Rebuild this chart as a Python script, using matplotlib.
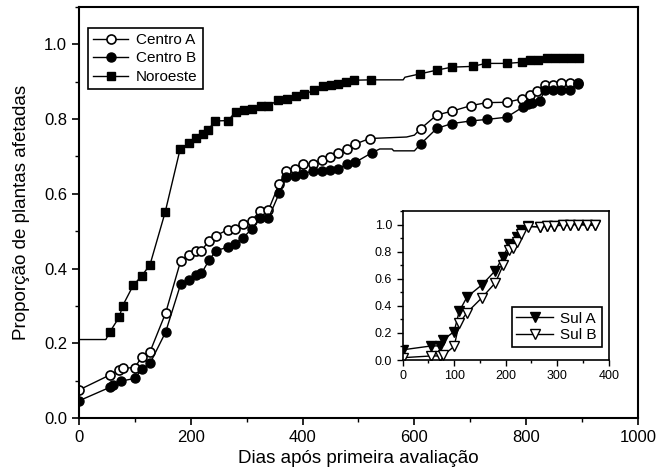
import matplotlib.pyplot as plt
from matplotlib.ticker import MultipleLocator

plt.rcParams['font.family'] = ['Liberation Sans', 'DejaVu Sans']

# days after first evaluation / proportion of affected plants
noroeste_days = [0, 48, 55, 72, 78, 97, 112, 127, 154, 181, 196, 210, 222, 231, 244, 267,
                 280, 295, 310, 325, 339, 356, 372, 388, 403, 421, 436, 450, 464, 478, 492,
                 522, 580, 583, 610, 640, 667, 704, 728, 765, 792, 807, 822, 837, 851,
                 866, 881, 894]
noroeste_prop = [0.21, 0.21, 0.23, 0.27, 0.30, 0.355, 0.38, 0.41, 0.55, 0.72, 0.735, 0.75,
                 0.76, 0.772, 0.795, 0.796, 0.82, 0.825, 0.828, 0.835, 0.835, 0.851,
                 0.855, 0.861, 0.867, 0.877, 0.888, 0.891, 0.895, 0.899, 0.904, 0.905,
                 0.905, 0.912, 0.921, 0.931, 0.939, 0.941, 0.949, 0.949, 0.952, 0.957,
                 0.957, 0.964, 0.964, 0.964, 0.964, 0.964]
noroeste_bare = [0, 1, 32, 33]

centro_a_days = [0, 55, 72, 78, 100, 112, 127, 155, 182, 197, 210, 218, 233, 245, 266, 279,
                 294, 309, 324, 339, 358, 371, 386, 401, 419, 434, 449, 464, 479, 494,
                 520, 586, 600, 611, 640, 667, 701, 729, 765, 792, 807, 819, 834, 848,
                 863, 878, 893]
centro_a_prop = [0.075, 0.115, 0.128, 0.133, 0.135, 0.163, 0.177, 0.281, 0.421, 0.437,
                 0.446, 0.446, 0.475, 0.488, 0.504, 0.505, 0.52, 0.528, 0.555, 0.557,
                 0.626, 0.661, 0.666, 0.679, 0.679, 0.69, 0.699, 0.71, 0.719, 0.733,
                 0.748, 0.752, 0.757, 0.774, 0.811, 0.821, 0.836, 0.844, 0.845, 0.854,
                 0.864, 0.875, 0.892, 0.892, 0.896, 0.896, 0.896]
centro_a_bare = [31, 32]

centro_b_days = [0, 55, 60, 76, 100, 112, 127, 155, 182, 197, 210, 219, 233, 245, 266, 279,
                 294, 309, 324, 339, 358, 371, 386, 401, 419, 434, 449, 464, 479, 494,
                 524, 538, 560, 563, 600, 611, 640, 667, 701, 729, 765, 794, 804, 811,
                 824, 834, 848, 863, 878, 893]
centro_b_prop = [0.046, 0.082, 0.088, 0.099, 0.106, 0.13, 0.146, 0.23, 0.359, 0.37, 0.384,
                 0.387, 0.423, 0.448, 0.457, 0.467, 0.483, 0.506, 0.535, 0.535, 0.601,
                 0.644, 0.648, 0.654, 0.661, 0.661, 0.663, 0.667, 0.679, 0.684, 0.71,
                 0.72, 0.72, 0.715, 0.715, 0.733, 0.775, 0.788, 0.795, 0.799, 0.805,
                 0.832, 0.841, 0.843, 0.848, 0.879, 0.879, 0.879, 0.879, 0.894]
centro_b_bare = [31, 32, 33, 34]

sul_days = [0, 56, 73, 79, 100, 110, 125, 154, 180, 195, 207, 214, 222, 230, 243, 266,
            281, 294, 311, 325, 340, 358, 373]
sul_a_prop = [0.075, 0.104, 0.104, 0.149, 0.21, 0.36, 0.465, 0.555, 0.66, 0.763, 0.853,
              0.84, 0.908, 0.958, 0.987, 0.983, 0.988, 0.99, 1.0, 1.0, 1.0, 1.0, 1.0]
sul_b_prop = [0.017, 0.03, 0.03, 0.035, 0.1, 0.27, 0.35, 0.46, 0.57, 0.70, 0.81, 0.83,
              0.87, 0.93, 0.985, 0.983, 0.988, 0.99, 0.995, 1.0, 1.0, 0.995, 0.995]


def marked(n, bare):
    return [i for i in range(n) if i not in bare]


fig = plt.figure(figsize=(6.61, 4.75), dpi=100)
ax = fig.add_axes([0.1195, 0.12, 0.8457, 0.8653])

ax.plot(centro_a_days, centro_a_prop, '-o', color='black', mfc='white', mew=1.2, ms=6.5,
        lw=1, markevery=marked(len(centro_a_days), centro_a_bare), label='Centro A')
ax.plot(centro_b_days, centro_b_prop, '-o', color='black', ms=6.5, lw=1,
        markevery=marked(len(centro_b_days), centro_b_bare), label='Centro B')
ax.plot(noroeste_days, noroeste_prop, '-s', color='black', ms=5.5, lw=1,
        markevery=marked(len(noroeste_days), noroeste_bare), label='Noroeste')

ax.set_xlim(0, 1000)
ax.set_ylim(0, 1.1)
ax.xaxis.set_major_locator(MultipleLocator(200))
ax.xaxis.set_minor_locator(MultipleLocator(100))
ax.yaxis.set_major_locator(MultipleLocator(0.2))
ax.yaxis.set_minor_locator(MultipleLocator(0.1))
ax.yaxis.set_major_formatter(plt.FormatStrFormatter('%.1f'))
ax.tick_params(which='both', direction='out', top=False, right=False, labelsize=12)
ax.tick_params(which='major', length=5, width=1.2)
ax.tick_params(which='minor', length=3, width=1)
for s in ax.spines.values():
    s.set_linewidth(1.5)
ax.set_xlabel('Dias após primeira avaliação', fontsize=13.5, labelpad=4)
ax.set_ylabel('Proporção de plantas afetadas', fontsize=13.5, labelpad=10)

leg = ax.legend(loc='upper left', bbox_to_anchor=(0.016, 0.95), fontsize=11,
                fancybox=False, edgecolor='black', framealpha=1, handlelength=2.3,
                borderpad=0.35, labelspacing=0.3, handletextpad=0.5, borderaxespad=0)
leg.get_frame().set_linewidth(1.2)

# inset
ins = fig.add_axes([0.609, 0.2421, 0.312, 0.3137])
ins.plot(sul_days, sul_a_prop, '-v', color='black', ms=6.5, lw=1, label='Sul A')
ins.plot(sul_days, sul_b_prop, '-v', color='black', mfc='white', mew=1, ms=6.5, lw=1,
         label='Sul B')
ins.set_xlim(0, 400)
ins.set_ylim(0, 1.1)
ins.xaxis.set_major_locator(MultipleLocator(100))
ins.xaxis.set_minor_locator(MultipleLocator(50))
ins.yaxis.set_major_locator(MultipleLocator(0.2))
ins.yaxis.set_minor_locator(MultipleLocator(0.1))
ins.yaxis.set_major_formatter(plt.FormatStrFormatter('%.1f'))
ins.tick_params(which='both', direction='out', top=False, right=False, labelsize=9)
ins.tick_params(which='major', length=4, width=1)
ins.tick_params(which='minor', length=2.5, width=1)
for s in ins.spines.values():
    s.set_linewidth(1.2)
leg2 = ins.legend(loc='lower right', bbox_to_anchor=(0.965, 0.09), fontsize=11,
                  fancybox=False, edgecolor='black', framealpha=1, handlelength=2.4,
                  borderpad=0.3, labelspacing=0.15, handletextpad=0.5, borderaxespad=0)
leg2.get_frame().set_linewidth(1.2)

fig.savefig('out.png', dpi=100)
